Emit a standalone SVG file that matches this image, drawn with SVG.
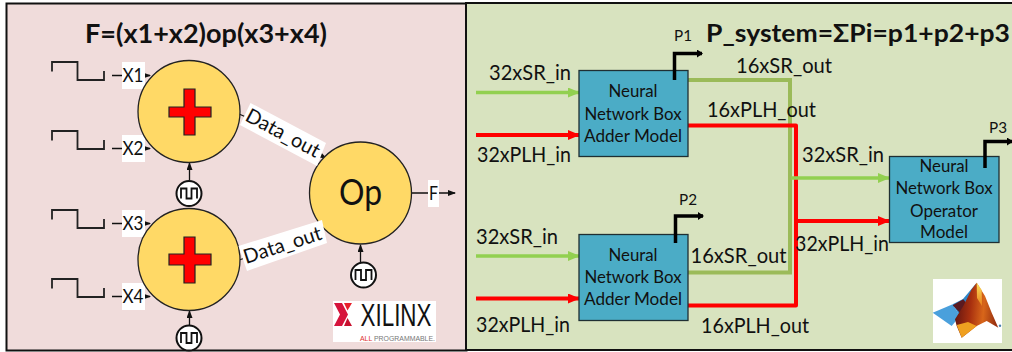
<svg xmlns="http://www.w3.org/2000/svg" width="1012" height="352" viewBox="0 0 1012 352">
<style>
text{font-family:"Lato","Liberation Sans",sans-serif;fill:#111}
.t{font-size:20.500px}
.b{font-size:18px}
.p{font-size:15px}
.h{font-weight:700;font-size:27px}
.x{font-size:20px}
.circle{fill:#FFD966;stroke:#222;stroke-width:1.300}
.plus{fill:#FF0000;stroke:#222;stroke-width:1.200}
.box{fill:#4BACC6;stroke:#1f2f33;stroke-width:1.300}
.clk{fill:#fff;stroke:#111;stroke-width:2}
.wave{fill:none;stroke:#111;stroke-width:1.800}
.pulse{fill:none;stroke:#222;stroke-width:1.800}
.lbl{fill:#fff}
.thin{fill:none;stroke:#111;stroke-width:1.300}
.pw{fill:none;stroke:#000;stroke-width:3.500}
.g1{fill:none;stroke:#9BBB59;stroke-width:4}
.g2{fill:none;stroke:#92D050;stroke-width:3.500}
.r{fill:none;stroke:#FF0000;stroke-width:4}
</style>
<defs>
<marker id="ah" markerUnits="userSpaceOnUse" markerWidth="8" markerHeight="6" refX="7" refY="3" orient="auto"><path d="M0 0L8 3L0 6Z" fill="#111"/></marker>
<marker id="ahp" markerUnits="userSpaceOnUse" markerWidth="6" markerHeight="8" refX="5" refY="4" orient="auto"><path d="M0 0L6 4L0 8Z" fill="#000"/></marker>
<marker id="ag" markerUnits="userSpaceOnUse" markerWidth="12" markerHeight="10" refX="11" refY="5" orient="auto"><path d="M0 0L12 5L0 10Z" fill="#92D050"/></marker>
<marker id="ar" markerUnits="userSpaceOnUse" markerWidth="12" markerHeight="10" refX="11" refY="5" orient="auto"><path d="M0 0L12 5L0 10Z" fill="#FF0000"/></marker>
<linearGradient id="peak" x1="0" y1="0" x2="1" y2="0.1"><stop offset="0" stop-color="#5a1212"/><stop offset="0.4" stop-color="#a8300f"/><stop offset="0.7" stop-color="#d8661a"/><stop offset="1" stop-color="#9a3210"/></linearGradient>
<linearGradient id="streak" x1="0" y1="0" x2="0" y2="1"><stop offset="0" stop-color="#FBE05A"/><stop offset="1" stop-color="#E8801C"/></linearGradient>
<g id="clock"><circle class="clk" r="12.500"/><path class="wave" d="M-8 5V-5H-2.500V5H2.500V-5H8V5"/></g>
</defs>
<rect width="1012" height="352" fill="#fff"/>
<rect x="6.500" y="3.500" width="460" height="347" fill="#F0DCDB" stroke="#111" stroke-width="2"/>
<rect x="466" y="3" width="548" height="347" fill="#D8E3BF" stroke="#111" stroke-width="2"/>
<text class="h" x="85" y="43" textLength="242" lengthAdjust="spacingAndGlyphs">F=(x1+x2)op(x3+x4)</text>
<text x="706" y="42" font-weight="700" font-size="25.500" textLength="304" lengthAdjust="spacingAndGlyphs">P_system=ΣPi=p1+p2+p3</text>

<g id="connectors">
<path class="thin" d="M112 75.500H122M145 75.500H150" marker-end="url(#ah)"/>
<path class="thin" d="M112 148.500H122M145 148.500H150" marker-end="url(#ah)"/>
<path class="thin" d="M112 223.500H122M145 223.500H150" marker-end="url(#ah)"/>
<path class="thin" d="M112 296.500H122M145 296.500H150" marker-end="url(#ah)"/>
<path class="thin" d="M189.500 180V163" marker-end="url(#ah)"/>
<path class="thin" d="M189.500 325V311" marker-end="url(#ah)"/>
<path class="thin" d="M360.500 262V245" marker-end="url(#ah)"/>
<path class="thin" d="M412 193H428M439 193H455" marker-end="url(#ah)"/>
<path class="thin" d="M239 114L246 117M320 155L326 158" marker-end="url(#ah)"/>
<path class="thin" d="M239 260L245 258M318 232L322 230" marker-end="url(#ah)"/>
<path class="g2" d="M476 92.500H579" marker-end="url(#ag)"/>
<path class="r" d="M476 135H579" marker-end="url(#ar)"/>
<path class="g2" d="M476 256H579" marker-end="url(#ag)"/>
<path class="r" d="M476 298.500H579" marker-end="url(#ar)"/>
<path class="g1" d="M688 80H790V272.500H688"/>
<path class="r" d="M688 125.500H796V305.500H688" stroke-linejoin="round"/>
<path class="g2" d="M791 178H889" marker-end="url(#ag)"/>
<path class="r" d="M796 221H889" marker-end="url(#ar)"/>
</g>

<g id="pulses">
<path class="pulse" d="M52 71.500V62H77.500V80H104V71"/>
<path class="pulse" d="M52 140.500V131H77.500V149H104V140"/>
<path class="pulse" d="M52 219.500V210H77.500V228H104V219"/>
<path class="pulse" d="M52 288.500V279H77.500V297H104V288"/>
</g>

<g id="x1"><rect class="lbl" x="122" y="62" width="23" height="27"/><text class="x" x="122.500" y="82" textLength="21" lengthAdjust="spacingAndGlyphs">X1</text></g>
<g id="x2"><rect class="lbl" x="122" y="135" width="23" height="27"/><text class="x" x="122.500" y="155" textLength="21" lengthAdjust="spacingAndGlyphs">X2</text></g>
<g id="x3"><rect class="lbl" x="122" y="210" width="23" height="27"/><text class="x" x="122.500" y="230" textLength="21" lengthAdjust="spacingAndGlyphs">X3</text></g>
<g id="x4"><rect class="lbl" x="122" y="283" width="23" height="27"/><text class="x" x="122.500" y="303" textLength="21" lengthAdjust="spacingAndGlyphs">X4</text></g>

<g id="adder1"><circle class="circle" cx="189" cy="111.500" r="51"/><path class="plus" d="M184 89H195V107H211V117H195V135H184V117H169V107H184Z"/></g>
<g id="adder2"><circle class="circle" cx="189" cy="259.500" r="51"/><path class="plus" d="M184 237H195V254H211V265H195V283H184V265H169V254H184Z"/></g>
<g id="op"><circle class="circle" cx="360.500" cy="193" r="51"/><text x="360.500" y="205" font-size="37" text-anchor="middle" textLength="43" lengthAdjust="spacingAndGlyphs">Op</text></g>

<g id="clk1"><use href="#clock" x="189" y="193.500"/></g>
<g id="clk2"><use href="#clock" x="189" y="338"/></g>
<g id="clk3"><use href="#clock" x="363.500" y="275"/></g>

<g id="data1"><polygon class="lbl" points="250.500,103 326,143 317,166 240,125"/><text transform="translate(244 120) rotate(28)" font-size="20" textLength="81" lengthAdjust="spacingAndGlyphs">Data_out</text></g>
<g id="data2"><polygon class="lbl" points="238.500,246 322,220 327,243 247,271"/><text transform="translate(246 264) rotate(-18)" font-size="20" textLength="81" lengthAdjust="spacingAndGlyphs">Data_out</text></g>
<g id="f"><rect class="lbl" x="428" y="180" width="11" height="27"/><text class="x" x="429" y="200" textLength="9" lengthAdjust="spacingAndGlyphs">F</text></g>

<g id="xilinx">
<rect x="333" y="301" width="103" height="41" fill="#fff"/>
<polygon points="334,303 342,303 348,314.500 342,326 334,326 340,314.500" fill="#D6143C"/>
<polygon points="344,303 352,303 347.500,310.500" fill="#E8202C"/>
<polygon points="347.500,318 352,326 344,326" fill="#C8102E"/>
<text x="360.500" y="325.500" font-size="32" style="font-family:'Liberation Sans',sans-serif" textLength="71" lengthAdjust="spacingAndGlyphs">XILINX</text>
<text x="360" y="340.500" font-size="7.500" style="font-family:'Liberation Sans',sans-serif;fill:#777" textLength="75" lengthAdjust="spacingAndGlyphs"><tspan style="fill:#E03030">ALL</tspan> PROGRAMMABLE.</text>
</g>

<g id="nn1"><rect class="box" x="579" y="70.500" width="109" height="86"/>
<text class="b" x="633" y="96.500" text-anchor="middle" textLength="49" lengthAdjust="spacingAndGlyphs">Neural</text>
<text class="b" x="633" y="120" text-anchor="middle" textLength="97" lengthAdjust="spacingAndGlyphs">Network Box</text>
<text class="b" x="633" y="142" text-anchor="middle" textLength="98" lengthAdjust="spacingAndGlyphs">Adder Model</text></g>
<g id="nn2"><rect class="box" x="579" y="234.500" width="109" height="86"/>
<text class="b" x="633" y="261" text-anchor="middle" textLength="49" lengthAdjust="spacingAndGlyphs">Neural</text>
<text class="b" x="633" y="283" text-anchor="middle" textLength="97" lengthAdjust="spacingAndGlyphs">Network Box</text>
<text class="b" x="633" y="305" text-anchor="middle" textLength="98" lengthAdjust="spacingAndGlyphs">Adder Model</text></g>
<g id="nn3"><rect class="box" x="889.500" y="156.500" width="109.500" height="86"/>
<text class="b" x="944" y="172" text-anchor="middle" textLength="49" lengthAdjust="spacingAndGlyphs">Neural</text>
<text class="b" x="944" y="194" text-anchor="middle" textLength="97" lengthAdjust="spacingAndGlyphs">Network Box</text>
<text class="b" x="944" y="217" text-anchor="middle" textLength="68" lengthAdjust="spacingAndGlyphs">Operator</text>
<text class="b" x="944" y="238" text-anchor="middle" textLength="48" lengthAdjust="spacingAndGlyphs">Model</text></g>

<g id="power">
<path class="pw" d="M674.500 80V53.500H702" marker-end="url(#ahp)"/>
<path class="pw" d="M675.500 243V216H703" marker-end="url(#ahp)"/>
<path class="pw" d="M985 168V141.500H1012" marker-end="url(#ahp)"/>
<text class="p" x="674" y="40.500" textLength="18" lengthAdjust="spacingAndGlyphs">P1</text>
<text class="p" x="679" y="204.500" textLength="18" lengthAdjust="spacingAndGlyphs">P2</text>
<text class="p" x="989" y="133" textLength="18" lengthAdjust="spacingAndGlyphs">P3</text>
</g>

<g id="labels">
<text class="t" x="489" y="80" textLength="82" lengthAdjust="spacingAndGlyphs">32xSR_in</text>
<text class="t" x="477" y="162" textLength="94" lengthAdjust="spacingAndGlyphs">32xPLH_in</text>
<text class="t" x="736" y="72.500" textLength="96" lengthAdjust="spacingAndGlyphs">16xSR_out</text>
<text class="t" x="707" y="116.500" textLength="109" lengthAdjust="spacingAndGlyphs">16xPLH_out</text>
<text class="t" x="802" y="162" textLength="82" lengthAdjust="spacingAndGlyphs">32xSR_in</text>
<text class="t" x="795" y="251" textLength="94" lengthAdjust="spacingAndGlyphs">32xPLH_in</text>
<text class="t" x="476" y="244" textLength="82" lengthAdjust="spacingAndGlyphs">32xSR_in</text>
<text class="t" x="476" y="332" textLength="94" lengthAdjust="spacingAndGlyphs">32xPLH_in</text>
<text class="t" x="690.500" y="263" textLength="96" lengthAdjust="spacingAndGlyphs">16xSR_out</text>
<text class="t" x="701" y="333" textLength="108" lengthAdjust="spacingAndGlyphs">16xPLH_out</text>
</g>

<g id="matlab">
<rect x="933" y="279" width="69" height="64" fill="#fff"/>
<polygon points="932.700,312.700 952.700,304.300 960,316 951.700,326" fill="#4AA0DC"/>
<polygon points="963,299 976.700,282.700 972,292 966,303 960,316 952.700,304.300" fill="#2F86C8"/>
<polygon points="952.700,305.300 963.300,299.300 967,304 960,313" fill="#5A1A20"/>
<polygon points="976.700,282.700 985,296 991.700,312.700 998.300,327.700 986.700,321 976.700,326 961.700,337.700 956.700,326 955,319.300 963.300,306 971.700,289.300" fill="url(#peak)"/>
<polygon points="976.700,282.700 981.700,290 982,306 977,298" fill="url(#streak)"/>
<polygon points="961.700,337.700 976.700,326 968,322 956.700,325" fill="#EFA020"/>
<circle cx="1000" cy="325.700" r="1.200" fill="#4A80B0"/>
</g>
</svg>
